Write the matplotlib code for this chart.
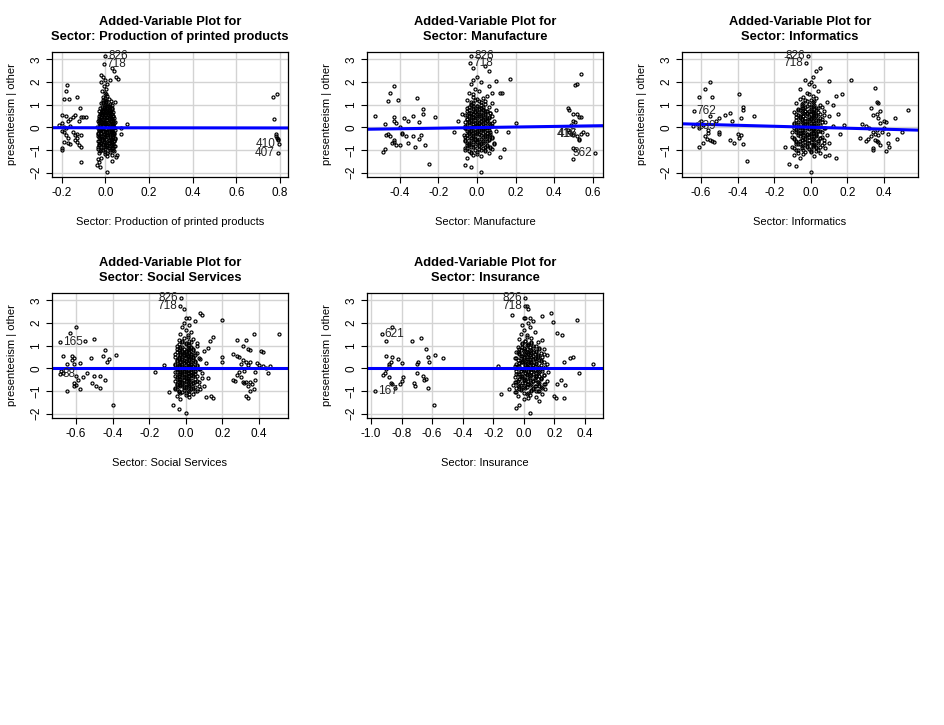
import numpy as np
import matplotlib.pyplot as plt

plt.rcParams['font.family'] = ['Liberation Sans', 'DejaVu Sans']

# presenteeism | other, dense core of the residual cloud (shared by all panels)
core_y = [
    -1.35, -1.25, -1.2, -1.15, -1.1, -1.05, -1.0, -0.98, -0.95, -0.92,
    -0.9, -0.88, -0.85, -0.82, -0.8, -0.78, -0.75, -0.72, -0.7, -0.68,
    -0.65, -0.62, -0.6, -0.58, -0.55, -0.52, -0.5, -0.48, -0.45, -0.42,
    -0.4, -0.38, -0.35, -0.32, -0.3, -0.28, -0.25, -0.22, -0.2, -0.18,
    -0.15, -0.12, -0.1, -0.08, -0.05, -0.02, 0.0, 0.02, 0.05, 0.08,
    0.1, 0.12, 0.15, 0.18, 0.2, 0.22, 0.25, 0.28, 0.3, 0.32,
    0.35, 0.38, 0.4, 0.42, 0.45, 0.48, 0.5, 0.52, 0.55, 0.58,
    0.6, 0.62, 0.65, 0.68, 0.7, 0.72, 0.75, 0.78, 0.8, 0.85,
    0.88, 0.9, 0.95, 1.0, 1.05, 1.1, 1.15, 1.2, 1.25, 1.3,
    1.35, 1.4, 1.5, 1.6, 1.7, 1.8, 1.9, 2.0, 2.1, 2.2,
    -1.12, -1.06, -1.01, -0.97, -0.93, -0.87, -0.83, -0.79, -0.74, -0.71,
    -0.67, -0.63, -0.59, -0.56, -0.53, -0.47, -0.44, -0.41, -0.37, -0.33,
    -0.29, -0.26, -0.23, -0.19, -0.16, -0.13, -0.09, -0.06, -0.03, 0.01,
    0.04, 0.07, 0.11, 0.14, 0.17, 0.21, 0.24, 0.27, 0.31, 0.34,
    0.37, 0.41, 0.44, 0.47, 0.51, 0.54, 0.57, 0.61, 0.64, 0.67,
    0.71, 0.74, 0.79, 0.83, 0.87, 0.92, 0.97, 1.03, 1.08, 1.18,
    -1.18, -1.08, -0.99, -0.91, -0.86, -0.81, -0.77, -0.73, -0.69, -0.66,
    -0.61, -0.57, -0.54, -0.51, -0.46, -0.43, -0.39, -0.36, -0.34, -0.31,
    -0.27, -0.24, -0.21, -0.17, -0.14, -0.11, -0.07, -0.04, -0.01, 0.03,
    0.06, 0.09, 0.13, 0.16, 0.19, 0.23, 0.26, 0.29, 0.33, 0.36,
    0.39, 0.43, 0.46, 0.49, 0.53, 0.56, 0.59, 0.63, 0.66, 0.69,
    0.73, 0.77, 0.81, 0.86, 0.91, 0.96, 1.02, 1.12, 1.22, 1.45,
]

# sector residuals of the core points, one list per panel
core_x_print = [
    -0.02, 0.01, 0.03, -0.03, 0.0, 0.04, -0.01, 0.02, -0.035, 0.015,
    0.03, -0.02, 0.005, 0.045, -0.03, 0.01, -0.01, 0.035, 0.02, -0.025,
    0.0, 0.04, -0.035, 0.015, 0.025, -0.015, 0.03, -0.005, 0.045, -0.03,
    0.02, -0.02, 0.035, 0.005, -0.035, 0.04, 0.01, -0.01, 0.03, -0.025,
    0.015, 0.045, -0.03, 0.0, 0.025, -0.015, 0.04, -0.04, 0.01, 0.03,
    -0.02, 0.035, 0.005, -0.03, 0.02, 0.045, -0.01, 0.025, -0.035, 0.01,
    0.03, -0.025, 0.015, 0.04, -0.005, 0.02, -0.03, 0.035, 0.0, -0.015,
    0.025, -0.02, 0.01, 0.035, -0.03, 0.015, 0.005, -0.01, 0.03, -0.025,
    0.02, -0.015, 0.01, 0.03, -0.02, 0.005, 0.025, -0.01, 0.015, 0.0,
    -0.01, 0.01, 0.0, -0.015, 0.005, -0.005, 0.01, -0.02, 0.0, -0.01,
    0.01, -0.025, 0.035, 0.0, 0.02, -0.035, 0.04, -0.01, 0.025, -0.02,
    0.005, 0.03, -0.03, 0.015, 0.045, -0.015, 0.0, 0.035, -0.025, 0.02,
    -0.005, 0.04, -0.035, 0.01, 0.025, -0.02, 0.03, 0.005, -0.03, 0.015,
    0.035, -0.01, 0.02, -0.025, 0.0, 0.04, -0.015, 0.025, 0.01, -0.03,
    0.03, -0.005, 0.015, -0.02, 0.035, 0.005, -0.025, 0.02, 0.0, -0.01,
    0.025, -0.015, 0.01, 0.03, -0.005, 0.015, 0.0, 0.02, -0.01, 0.005,
    0.0, 0.02, -0.02, 0.035, -0.01, 0.01, 0.03, -0.03, 0.015, -0.005,
    0.04, -0.015, 0.025, 0.005, -0.025, 0.02, -0.035, 0.01, 0.03, 0.0,
    -0.02, 0.035, 0.015, -0.01, 0.025, -0.03, 0.005, 0.04, -0.015, 0.02,
    0.01, -0.025, 0.03, 0.0, -0.005, 0.015, -0.02, 0.035, 0.005, -0.01,
    0.025, -0.03, 0.01, 0.02, -0.015, 0.0, 0.03, -0.02, 0.015, 0.005,
    -0.01, 0.02, 0.0, 0.01, -0.005, 0.015, 0.005, -0.01, 0.0, 0.005,
]
core_x_manu = [
    -0.05, 0.02, -0.02, 0.06, 0.0, -0.04, 0.04, -0.01, 0.08, -0.06,
    0.03, -0.03, 0.07, 0.01, -0.05, 0.05, -0.02, 0.09, -0.04, 0.02,
    0.0, -0.06, 0.04, 0.06, -0.03, 0.01, -0.01, 0.08, -0.05, 0.03,
    0.05, -0.02, 0.02, -0.07, 0.07, -0.04, 0.0, 0.04, -0.01, 0.1,
    -0.03, 0.06, 0.01, -0.05, 0.03, -0.06, 0.05, -0.02, 0.08, 0.0,
    0.02, -0.04, 0.07, -0.01, 0.04, -0.06, 0.01, 0.09, -0.03, 0.05,
    -0.05, 0.03, 0.0, 0.06, -0.02, 0.08, -0.04, 0.02, -0.06, 0.04,
    0.01, -0.03, 0.07, -0.01, 0.05, -0.05, 0.03, 0.1, -0.02, 0.0,
    -0.04, 0.06, -0.02, 0.02, 0.08, -0.03, 0.04, -0.05, 0.0, 0.03,
    -0.02, 0.05, -0.04, 0.01, -0.01, 0.06, -0.03, 0.02, -0.02, 0.0,
    -0.03, 0.04, -0.06, 0.01, 0.07, -0.02, 0.05, -0.04, 0.02, 0.09,
    -0.05, 0.0, 0.03, -0.01, 0.06, -0.03, 0.08, -0.06, 0.04, -0.02,
    0.01, -0.04, 0.05, 0.07, -0.05, 0.02, -0.01, 0.03, -0.03, 0.06,
    0.0, -0.06, 0.04, -0.02, 0.08, 0.01, -0.04, 0.05, -0.01, 0.03,
    -0.05, 0.02, 0.06, -0.03, 0.0, 0.04, -0.02, 0.07, -0.04, 0.01,
    0.05, -0.01, 0.03, -0.05, 0.02, 0.0, -0.03, 0.04, -0.02, 0.01,
    0.0, -0.03, 0.02, -0.05, 0.04, -0.01, 0.01, -0.04, 0.03, -0.02,
    0.05, -0.06, 0.0, 0.02, -0.03, 0.04, -0.01, 0.06, -0.05, 0.01,
    -0.02, 0.03, -0.04, 0.0, 0.05, -0.03, 0.02, -0.06, 0.04, -0.01,
    0.01, -0.05, 0.03, -0.02, 0.06, 0.0, -0.04, 0.02, -0.03, 0.04,
    -0.01, 0.05, -0.02, 0.01, -0.05, 0.03, 0.0, -0.03, 0.02, -0.01,
    0.04, -0.04, 0.01, -0.02, 0.03, 0.0, -0.03, 0.02, -0.01, -0.02,
]
core_x_info = [
    -0.06, 0.02, -0.09, 0.05, -0.03, 0.0, -0.08, 0.04, -0.01, 0.08,
    -0.05, 0.03, -0.1, 0.01, -0.04, 0.06, -0.07, 0.02, -0.02, 0.1,
    0.0, -0.08, 0.04, -0.05, 0.07, -0.03, 0.01, -0.09, 0.05, -0.01,
    -0.06, 0.03, -0.04, 0.09, -0.02, 0.0, -0.07, 0.06, -0.1, 0.02,
    0.04, -0.05, 0.01, -0.08, 0.07, -0.03, 0.03, -0.06, 0.0, 0.12,
    -0.02, 0.05, -0.09, 0.02, -0.04, 0.08, -0.07, 0.01, -0.01, 0.04,
    -0.05, 0.06, -0.03, 0.0, -0.08, 0.03, 0.1, -0.06, 0.02, -0.02,
    0.05, -0.04, 0.01, -0.09, 0.07, -0.01, 0.03, -0.07, 0.0, 0.04,
    -0.03, 0.06, -0.05, 0.02, -0.08, 0.09, -0.02, 0.0, -0.06, 0.03,
    -0.04, 0.01, -0.02, 0.04, -0.06, 0.02, -0.01, 0.0, -0.03, 0.01,
    -0.07, 0.03, -0.04, 0.0, -0.09, 0.05, -0.02, 0.02, -0.06, 0.07,
    -0.01, -0.08, 0.04, -0.05, 0.01, -0.03, 0.06, -0.1, 0.02, -0.02,
    0.03, -0.06, 0.0, -0.04, 0.05, -0.08, 0.01, -0.01, 0.08, -0.05,
    0.02, -0.07, 0.04, -0.03, 0.0, -0.09, 0.06, -0.02, 0.03, -0.05,
    -0.01, 0.05, -0.06, 0.01, -0.04, 0.07, -0.08, 0.02, -0.02, 0.04,
    -0.03, 0.0, -0.07, 0.03, -0.05, 0.01, 0.05, -0.01, -0.04, 0.02,
    -0.04, 0.0, -0.07, 0.03, -0.02, -0.05, 0.01, -0.08, 0.04, -0.03,
    -0.06, 0.02, -0.01, -0.09, 0.05, -0.04, 0.0, -0.07, 0.03, -0.02,
    -0.05, 0.01, -0.08, 0.04, -0.03, -0.06, 0.02, -0.01, -0.09, 0.0,
    -0.04, 0.03, -0.07, -0.02, 0.01, -0.05, 0.04, -0.03, -0.08, 0.0,
    -0.06, 0.02, -0.01, -0.04, 0.03, -0.07, 0.0, -0.02, -0.05, 0.01,
    -0.03, -0.06, 0.02, -0.04, 0.0, -0.02, -0.05, 0.01, -0.03, -0.01,
]
core_x_social = [
    -0.03, 0.02, -0.05, 0.04, 0.0, -0.02, 0.06, -0.04, 0.01, 0.08,
    -0.06, 0.03, -0.01, 0.05, -0.03, 0.1, -0.05, 0.02, 0.0, -0.02,
    0.04, -0.04, 0.07, 0.01, -0.06, 0.03, -0.01, 0.05, -0.03, 0.12,
    0.0, -0.05, 0.02, 0.06, -0.02, 0.04, -0.04, 0.01, 0.09, -0.06,
    0.03, -0.01, 0.05, -0.03, 0.0, 0.07, -0.05, 0.02, -0.02, 0.04,
    -0.04, 0.01, 0.06, -0.06, 0.03, -0.01, 0.11, -0.03, 0.0, 0.05,
    -0.05, 0.02, -0.02, 0.08, -0.04, 0.04, 0.01, -0.06, 0.03, -0.01,
    0.05, -0.03, 0.0, 0.06, -0.05, 0.02, -0.02, 0.1, -0.04, 0.04,
    0.01, -0.03, 0.03, -0.05, 0.0, 0.06, -0.02, 0.02, -0.04, 0.04,
    -0.01, 0.01, -0.03, 0.03, 0.0, -0.02, 0.02, -0.01, 0.05, 0.0,
    0.02, -0.04, 0.05, -0.01, 0.03, -0.06, 0.0, 0.07, -0.03, 0.01,
    -0.05, 0.04, -0.02, 0.06, 0.02, -0.04, 0.0, 0.09, -0.01, -0.06,
    0.03, -0.03, 0.05, 0.01, -0.05, 0.04, -0.02, 0.0, 0.08, -0.04,
    0.02, -0.01, 0.06, -0.06, 0.03, -0.03, 0.01, 0.05, -0.05, 0.0,
    0.04, -0.02, 0.02, 0.07, -0.04, 0.01, -0.01, 0.03, -0.06, 0.05,
    0.0, -0.03, 0.04, -0.05, 0.02, -0.02, 0.06, 0.01, -0.04, 0.03,
    0.0, -0.03, 0.02, -0.05, 0.04, -0.01, 0.01, -0.04, 0.03, -0.02,
    0.05, 0.0, -0.03, 0.02, -0.05, 0.01, -0.02, 0.04, -0.04, 0.03,
    -0.01, 0.0, 0.02, -0.03, 0.05, -0.02, 0.01, -0.05, 0.03, -0.01,
    0.0, 0.04, -0.04, 0.02, -0.02, 0.01, -0.03, 0.03, 0.0, -0.01,
    0.02, -0.04, 0.04, -0.02, 0.0, 0.01, -0.03, 0.03, -0.01, 0.02,
    -0.02, 0.0, 0.01, -0.01, 0.03, -0.03, 0.02, 0.0, -0.02, 0.01,
]
core_x_insur = [
    0.0, 0.08, -0.04, 0.12, 0.03, -0.06, 0.1, 0.05, -0.02, 0.14,
    0.06, -0.05, 0.01, 0.11, -0.03, 0.08, 0.04, -0.07, 0.13, 0.02,
    -0.01, 0.09, -0.05, 0.06, 0.15, 0.0, 0.04, -0.03, 0.11, 0.07,
    -0.06, 0.02, 0.1, -0.02, 0.05, 0.13, -0.04, 0.08, 0.01, 0.16,
    0.03, -0.05, 0.12, 0.06, -0.01, 0.09, 0.0, -0.06, 0.14, 0.04,
    0.07, -0.03, 0.11, 0.02, -0.05, 0.08, 0.05, 0.13, -0.02, 0.01,
    0.1, -0.04, 0.06, 0.03, -0.06, 0.12, 0.0, 0.09, -0.01, 0.15,
    0.04, -0.03, 0.07, 0.11, -0.05, 0.02, 0.08, 0.05, -0.02, 0.13,
    0.0, 0.1, -0.04, 0.06, 0.03, -0.01, 0.09, 0.01, 0.12, -0.03,
    0.05, 0.02, -0.02, 0.07, 0.0, 0.04, -0.01, 0.03, 0.06, 0.01,
    0.02, -0.05, 0.09, 0.05, -0.02, 0.12, 0.0, 0.07, -0.04, 0.14,
    0.03, 0.1, -0.06, 0.06, 0.01, -0.03, 0.11, 0.04, 0.08, -0.01,
    0.13, -0.05, 0.02, 0.09, 0.05, -0.02, 0.07, 0.0, 0.12, -0.04,
    0.03, 0.1, -0.06, 0.06, 0.01, 0.15, -0.03, 0.04, 0.08, -0.01,
    0.11, 0.02, -0.05, 0.07, 0.05, -0.02, 0.09, 0.0, 0.13, 0.03,
    -0.04, 0.06, 0.01, 0.1, -0.03, 0.04, 0.08, 0.02, -0.01, 0.05,
    0.04, 0.0, 0.08, -0.03, 0.06, 0.02, 0.1, -0.02, 0.05, 0.01,
    0.09, -0.04, 0.03, 0.07, 0.0, 0.11, -0.01, 0.04, 0.08, 0.02,
    -0.03, 0.06, 0.01, 0.1, 0.03, -0.02, 0.07, 0.0, 0.05, 0.09,
    0.02, -0.04, 0.06, 0.01, 0.08, 0.03, -0.01, 0.05, 0.11, 0.0,
    0.04, 0.07, -0.02, 0.02, 0.06, 0.09, 0.01, 0.03, -0.03, 0.05,
    0.08, 0.0, 0.04, 0.02, 0.06, -0.01, 0.03, 0.05, 0.01, 0.02,
]

# sparse points outside the core (sector groups and stragglers)
sparse_x_print = [
    -0.177, -0.18, -0.19, -0.166, -0.13, -0.2, -0.18, -0.15, -0.16, -0.17,
    -0.14, -0.115, -0.11, -0.12, -0.1, -0.2, -0.21, -0.19, -0.18, -0.16,
    -0.2, -0.19, -0.18, -0.17, -0.15, -0.14, -0.13, -0.14, -0.16, -0.17,
    -0.19, -0.2, -0.2, -0.13, -0.12, -0.11, -0.13, -0.11, -0.11, -0.09,
    0.77, 0.785, 0.775, 0.78, 0.78, 0.785, 0.79, 0.79, 0.795, 0.79,
    0.0, -0.006, 0.04, 0.05, 0.06, 0.03, 0.1, 0.07, 0.07, 0.05,
    0.03, -0.03, -0.04, -0.025, 0.01, -0.02, 0.02, 0.045, 0.055, -0.035,
]
sparse_y_print = [
    1.87, 1.62, 1.25, 1.25, 1.35, 0.55, 0.5, 0.45, 0.35, 0.3,
    0.55, 0.85, 0.45, 0.3, 0.45, 0.2, 0.1, 0.0, -0.05, 0.05,
    -0.15, -0.2, -0.35, -0.45, -0.2, -0.35, -0.45, -0.55, -0.75, -0.7,
    -0.65, -0.9, -1.0, -0.65, -0.8, -0.85, -0.3, -0.35, -1.55, 0.45,
    1.35, 1.45, 0.35, -0.3, -0.4, -0.45, -0.5, -0.55, -0.75, -1.15,
    3.13, 2.8, 2.5, 2.2, 2.15, 2.6, 0.15, -0.05, -0.3, -1.3,
    -1.5, -1.55, -1.65, -1.75, -1.95, 2.3, 2.1, 1.1, -1.2, -1.4,
]
sparse_x_manu = [
    -0.53, -0.45, -0.43, -0.46, -0.41, -0.31, -0.48, -0.46, -0.47, -0.45,
    -0.49, -0.48, -0.43, -0.43, -0.42, -0.4, -0.38, -0.36, -0.33, -0.28,
    -0.28, -0.3, -0.43, -0.43, -0.44, -0.42, -0.4, -0.39, -0.37, -0.36,
    -0.33, -0.32, -0.3, -0.29, -0.27, -0.22, -0.25, -0.39,
    0.54, 0.51, 0.52, 0.47, 0.48, 0.5, 0.52, 0.53, 0.54, 0.5,
    0.51, 0.49, 0.47, 0.48, 0.49, 0.5, 0.52, 0.53, 0.53, 0.54,
    0.57, 0.55, 0.5, 0.51, 0.5, 0.61,
    -0.03, -0.035, 0.17, 0.1, 0.2, 0.12, 0.13, -0.12, 0.16, 0.12,
    0.14, -0.06, -0.03, 0.02, -0.1, -0.08, 0.08, 0.06, 0.04, -0.02,
]
sparse_y_manu = [
    0.5, 1.5, 1.8, 1.15, 1.2, 1.3, 0.15, -0.3, -0.35, -0.4,
    -1.1, -0.95, 0.45, 0.3, 0.2, 0.0, 0.4, 0.3, 0.5, 0.8,
    0.6, 0.25, -0.55, -0.65, -0.7, -0.8, -0.8, -0.3, -0.4, -0.7,
    -0.4, -0.85, -0.5, -0.35, -0.8, 0.45, -1.6, -0.25,
    2.35, 1.85, 1.9, 0.85, 0.75, 0.6, 0.6, 0.45, 0.45, 0.3,
    0.25, 0.1, -0.1, -0.2, -0.3, -0.35, -0.4, -0.5, -0.55, -0.3,
    -0.3, -0.2, -0.9, -1.0, -1.4, -1.15,
    3.13, 2.82, 2.15, 2.05, 0.2, 1.5, 1.5, -0.2, -0.2, -1.3,
    -0.95, -1.65, -1.75, -1.97, 0.3, 0.6, 1.5, 2.5, 2.7, 2.6,
]
sparse_x_info = [
    -0.55, -0.58, -0.61, -0.54, -0.64, -0.55, -0.5, -0.47, -0.44, -0.43,
    -0.39, -0.37, -0.37, -0.38, -0.31, -0.6, -0.62, -0.61, -0.59, -0.644,
    -0.56, -0.58, -0.57, -0.55, -0.54, -0.53, -0.59, -0.61, -0.5, -0.5,
    -0.44, -0.42, -0.4, -0.39, -0.38, -0.37, -0.35, -0.56, -0.52,
    0.35, 0.37, 0.36, 0.33, 0.38, 0.36, 0.34, 0.4, 0.41, 0.38,
    0.37, 0.46, 0.53, 0.28, 0.3, 0.32, 0.34, 0.36, 0.35, 0.37,
    0.39, 0.4, 0.42, 0.33, 0.31, 0.3, 0.35, 0.36, 0.37, 0.34,
    0.34, 0.38, 0.42, 0.43, 0.41, 0.47, 0.5, 0.27,
    -0.015, -0.025, 0.22, 0.1, 0.05, 0.03, 0.17, 0.14, 0.12, 0.15,
    0.18, -0.14, -0.12, -0.08, 0.0, 0.14, 0.1, 0.16, 0.08,
]
sparse_y_info = [
    2.0, 1.7, 1.35, 1.35, 0.7, 0.5, 0.4, 0.55, 0.65, 0.3,
    1.45, 0.9, 0.75, 0.4, 0.5, 0.3, 0.15, -0.05, 0.1, 0.05,
    -0.1, -0.4, -0.5, -0.55, -0.6, -0.65, -0.7, -0.85, -0.2, -0.3,
    -0.55, -0.7, -0.3, -0.45, -0.35, -0.75, -1.5, -0.25, 0.3,
    1.75, 1.05, 1.1, 0.85, 0.7, 0.6, 0.55, 0.3, 0.25, 0.2,
    0.4, 0.4, 0.75, 0.15, 0.05, -0.05, -0.2, -0.1, -0.3, -0.35,
    -0.2, -0.05, -0.3, -0.4, -0.5, -0.6, -0.55, -0.6, -0.65, -0.9,
    -1.0, -0.8, -0.7, -0.85, -1.05, -0.5, -0.2, -0.45,
    3.13, 2.83, 2.1, 2.05, 2.6, 2.5, 1.45, 1.4, 1.0, 0.6,
    0.1, -0.85, -1.6, -1.7, -1.95, -1.35, -1.2, -0.3, -1.25,
]
sparse_x_social = [
    -0.6, -0.63, -0.687, -0.55, -0.5, -0.67, -0.62, -0.61, -0.62, -0.61,
    -0.65, -0.58, -0.52, -0.45, -0.44, -0.43, -0.42, -0.38, -0.68, -0.67,
    -0.687, -0.6, -0.59, -0.61, -0.6, -0.61, -0.58, -0.65, -0.54, -0.5,
    -0.47, -0.44, -0.51, -0.49, -0.47, -0.4, -0.56,
    0.51, 0.37, 0.33, 0.28, 0.31, 0.34, 0.35, 0.41, 0.42, 0.26,
    0.28, 0.29, 0.31, 0.3, 0.33, 0.35, 0.34, 0.39, 0.4, 0.42,
    0.44, 0.46, 0.45, 0.38, 0.32, 0.29, 0.28, 0.3, 0.26, 0.27,
    0.31, 0.32, 0.33, 0.35, 0.36, 0.38, 0.34, 0.33, 0.34, 0.35, 0.37,
    -0.026, -0.03, -0.17, -0.12, -0.09, 0.08, 0.09, 0.2, 0.15, 0.13,
    0.2, 0.2, 0.12, 0.14, 0.15, 0.11, -0.04, 0.0, -0.07, 0.02, -0.01,
]
sparse_y_social = [
    1.8, 1.55, 1.16, 1.2, 1.3, 0.55, 0.55, 0.45, 0.35, 0.2,
    0.2, 0.25, 0.45, 0.55, 0.8, 0.3, 0.4, 0.6, -0.1, -0.2,
    -0.25, -0.35, -0.5, -0.65, -0.75, -0.8, -0.9, -1.0, -0.2, -0.35,
    -0.35, -0.5, -0.65, -0.8, -0.85, -1.6, -0.4,
    1.5, 1.5, 1.25, 1.25, 1.0, 0.85, 0.8, 0.75, 0.7, 0.65,
    0.55, 0.5, 0.35, 0.2, 0.3, 0.3, 0.15, 0.25, 0.15, 0.1,
    0.0, 0.1, -0.2, -0.15, -0.1, -0.15, -0.3, -0.4, -0.5, -0.55,
    -0.6, -0.65, -0.6, -0.6, -0.7, -0.5, -0.8, -1.2, -1.3, -1.0, -0.9,
    3.11, 2.76, -0.15, 0.15, -1.05, 2.45, 2.35, 2.15, 1.4, 1.2,
    0.5, 0.3, 0.9, -1.2, -1.3, -1.25, -1.8, -1.97, -1.6, 2.2, 2.6,
]
sparse_x_insur = [
    -0.93, -0.86, -0.9, -0.67, -0.73, -0.64, -0.9, -0.86, -0.82, -0.8,
    -0.87, -0.88, -0.88, -0.7, -0.69, -0.63, -0.62, -0.58, -0.53, -0.9,
    -0.91, -0.92, -0.88, -0.87, -0.86, -0.84, -0.79, -0.8, -0.81, -0.72,
    -0.71, -0.7, -0.66, -0.65, -0.64, -0.63, -0.59, -0.974,
    0.007, 0.005, 0.35, 0.45, 0.36, 0.32, 0.3, 0.26, 0.25, 0.22,
    0.18, 0.19, 0.12, -0.08, -0.17, -0.15, -0.1, -0.05, -0.03, 0.04,
    0.03, 0.1, 0.2, 0.21, 0.26, 0.27, 0.24, 0.22, 0.02, 0.03, 0.04, 0.0,
]
sparse_y_insur = [
    1.51, 1.8, 1.2, 1.35, 1.2, 0.85, 0.55, 0.5, 0.4, 0.25,
    0.3, 0.2, 0.1, 0.2, 0.3, 0.5, 0.3, 0.6, 0.45, -0.05,
    -0.2, -0.3, -0.4, -0.65, -0.7, -0.85, -0.4, -0.55, -0.7, -0.65,
    -0.8, -0.2, -0.35, -0.5, -0.45, -0.85, -1.6, -1.0,
    3.11, 2.76, 2.15, 0.2, -0.2, 0.5, 0.45, 0.3, 1.45, 1.55,
    2.45, 2.05, 2.3, 2.35, 0.1, -1.15, -0.9, -1.75, -1.6, -1.97,
    -1.3, -1.45, -1.2, -1.3, -1.3, -0.75, -0.5, -0.7, 2.75, 2.6, 2.2, 2.2,
]

titles = ["Sector: Production of printed products", "Sector: Manufacture",
          "Sector: Informatics", "Sector: Social Services", "Sector: Insurance"]
xlims = [(-0.244, 0.837), (-0.571, 0.654), (-0.704, 0.586),
         (-0.731, 0.558), (-1.026, 0.518)]
xticks = [[-0.2, 0.0, 0.2, 0.4, 0.6, 0.8],
          [-0.4, -0.2, 0.0, 0.2, 0.4, 0.6],
          [-0.6, -0.4, -0.2, 0.0, 0.2, 0.4],
          [-0.6, -0.4, -0.2, 0.0, 0.2, 0.4],
          [-1.0, -0.8, -0.6, -0.4, -0.2, 0.0, 0.2, 0.4]]
intercepts = [-0.02, -0.012, 0.003, 0.02, 0.02]
slopes = [-0.01, 0.128, -0.216, 0.0, 0.0]

# identified points: (x, y, text, side)
id_labels = [
    [(0.0, 3.13, "826", "r"), (-0.006, 2.8, "718", "r"),
     (0.795, -0.75, "410", "l"), (0.79, -1.15, "407", "l")],
    [(-0.03, 3.13, "826", "r"), (-0.035, 2.82, "718", "r"),
     (0.53, -0.28, "418", "l"), (0.535, -0.3, "416", "l"),
     (0.61, -1.15, "362", "l")],
    [(-0.015, 3.13, "826", "l"), (-0.025, 2.83, "718", "l"),
     (-0.64, 0.7, "762", "r"), (-0.644, 0.05, "139", "r")],
    [(-0.026, 3.11, "826", "l"), (-0.03, 2.76, "718", "l"),
     (-0.687, 1.16, "165", "r"), (-0.687, -0.25, "88", "r")],
    [(0.007, 3.11, "826", "l"), (0.005, 2.76, "718", "l"),
     (-0.93, 1.51, "621", "r"), (-0.974, -1.0, "167", "r")],
]

core_x = [core_x_print, core_x_manu, core_x_info, core_x_social, core_x_insur]
sparse_x = [sparse_x_print, sparse_x_manu, sparse_x_info, sparse_x_social, sparse_x_insur]
sparse_y = [sparse_y_print, sparse_y_manu, sparse_y_info, sparse_y_social, sparse_y_insur]

fig = plt.figure(figsize=(9.45, 7.25), dpi=100)
W, H = 945.0, 725.0
lefts = [52, 367, 682, 52, 367]
tops = [52, 52, 52, 293, 293]
aw, ah = 236, 125

for i in range(5):
    ax = fig.add_axes([lefts[i] / W, (H - tops[i] - ah) / H, aw / W, ah / H])
    ax.grid(True, color='#d3d3d3', lw=1.0)
    ax.set_axisbelow(True)

    xs = list(core_x[i]) + list(sparse_x[i])
    ys = list(core_y) + list(sparse_y[i])
    ax.plot(xs, ys, linestyle='none', marker='o', markersize=2.2,
            mfc='none', mec='black', mew=0.85)

    xl = np.array(xlims[i])
    ax.plot(xl, intercepts[i] + slopes[i] * xl, color='#0000ff', lw=2.2)

    for (px, py, txt, side) in id_labels[i]:
        if side == "r":
            ax.annotate(txt, (px, py), xytext=(2, 0), textcoords='offset points',
                        ha='left', va='center', fontsize=8.5, color='#222222')
        else:
            ax.annotate(txt, (px, py), xytext=(-2, 0), textcoords='offset points',
                        ha='right', va='center', fontsize=8.5, color='#222222')

    ax.set_xlim(*xlims[i])
    ax.set_ylim(-2.19, 3.32)
    ax.set_xticks(xticks[i])
    ax.set_xticklabels(["%.1f" % t for t in xticks[i]])
    ax.set_yticks([-2, -1, 0, 1, 2, 3])
    ax.tick_params(direction='out', length=4, width=0.8, labelsize=8.5, pad=3)
    ax.tick_params(axis='y', labelrotation=90)
    plt.setp(ax.get_yticklabels(), va='center')
    for s in ax.spines.values():
        s.set_linewidth(0.9)

    ax.text(0.5, 1.07, "Added-Variable Plot for\n" + titles[i], transform=ax.transAxes,
            ha='center', va='bottom', fontsize=9.3, fontweight='bold', linespacing=1.35)
    ax.text(0.5, -0.36, titles[i], transform=ax.transAxes, ha='center', va='center',
            fontsize=8)
    ax.text(-0.17, 0.5, "presenteeism | other", transform=ax.transAxes, ha='center',
            va='center', rotation=90, fontsize=8)

fig.savefig("out.png", dpi=100)
